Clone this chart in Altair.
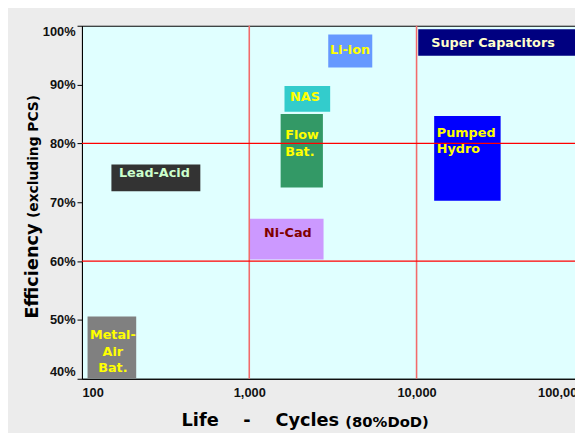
import altair as alt
import pandas as pd

# ---- data ----
techs = ["Li-ion", "Super Capacitors", "NAS", "Flow Bat.", "Pumped Hydro",
         "Ni-Cad", "Lead-Acid", "Metal-Air Bat."]
life_lo = [2965, 10230, 1624, 1540, 12740, 1000, 150, 108]
life_hi = [5435, 200000, 3045, 2755, 31800, 2780, 510, 211]
eff_lo = [92.9, 94.9, 85.4, 72.5, 70.25, 60.25, 71.86, 40.0]
eff_hi = [98.5, 99.4, 89.75, 85.0, 84.65, 67.2, 76.43, 50.57]
box_colors = ["#6699ff", "#000080", "#33cccc", "#339966", "#0000ff",
              "#cc99ff", "#333333", "#808080"]

label_text = ["Li-ion", "Super Capacitors", "NAS", "Flow\nBat.", "Pumped\nHydro",
              "Ni-Cad", "Lead-Acid", "Metal-\nAir\nBat."]
label_life = [4003, 12240, 2154, 1639, 13210, 1702, 271, 153]
label_eff = [95.95, 97.13, 87.83, 81.37, 81.84, 64.7, 74.92, 47.44]
label_left = [False, True, False, True, True, False, False, False]
label_colors = ["#ffff00", "#ffffcc", "#ffff00", "#ffff00", "#ffff00",
                "#800000", "#ccffcc", "#ffff00"]

x_ticks = [100, 1000, 10000, 100000]
y_ticks = [40, 50, 60, 70, 80, 90, 100]
h_grid = [60, 80]
v_grid = [1000, 10000]

y_title_main = "Efficiency"
y_title_sub = "(excluding PCS)"
x_title_main = "Life\u00a0\u00a0\u00a0\u00a0-\u00a0\u00a0\u00a0\u00a0Cycles"
x_title_sub = "(80%DoD)"

# ---- tables ----
boxes = pd.DataFrame({"tech": techs, "lo": life_lo, "hi": life_hi,
                      "elo": eff_lo, "ehi": eff_hi})
labels = pd.DataFrame({"tech": techs, "text": label_text, "x": label_life,
                       "y": label_eff, "left": label_left, "tc": label_colors})
hg = pd.DataFrame({"e": h_grid})
vg = pd.DataFrame({"c": v_grid})

xscale = alt.Scale(type="log", domain=[100, 100000], nice=False)
yscale = alt.Scale(domain=[40, 100], nice=False, zero=False)

FONT = "Liberation Sans"
BFONT = "DejaVu Sans"

xaxis = alt.Axis(values=x_ticks, format=",d", title=None, ticks=False,
                 grid=False, labelFlush=True, labelPadding=8,
                 labelFont=FONT, labelFontSize=13, labelFontWeight="bold",
                 labelColor="#111111", domainColor="#000000")
yaxis = alt.Axis(values=y_ticks, labelExpr="datum.value + '%'", title=None,
                 grid=False, labelFlush=True, tickSize=5, tickColor="#000000",
                 labelPadding=2, labelFont=FONT, labelFontSize=13,
                 labelFontWeight="bold", labelColor="#111111",
                 domainColor="#000000")

rects = alt.Chart(boxes).mark_rect(clip=True).encode(
    x=alt.X("lo:Q", scale=xscale, axis=xaxis),
    x2="hi:Q",
    y=alt.Y("elo:Q", scale=yscale, axis=yaxis),
    y2="ehi:Q",
    color=alt.Color("tech:N", scale=alt.Scale(domain=techs, range=box_colors), legend=None),
)

vrules = alt.Chart(vg).mark_rule(color="#f26b6b", strokeWidth=1.6).encode(
    x=alt.X("c:Q", scale=xscale, axis=xaxis))
hrules = alt.Chart(hg).mark_rule(color="#ff0000", strokeWidth=1.2).encode(
    y=alt.Y("e:Q", scale=yscale, axis=yaxis))

def label_layer(left):
    return alt.Chart(labels).transform_filter(
        alt.datum.left == left
    ).mark_text(font=BFONT, fontSize=13, fontWeight="bold", lineBreak="\n",
                lineHeight=17, align="left" if left else "center",
                baseline="middle").encode(
        x=alt.X("x:Q", scale=xscale, axis=xaxis),
        y=alt.Y("y:Q", scale=yscale, axis=yaxis),
        text="text:N",
        color=alt.Color("tc:N", scale=None),
    )

def title_layer(txt, px, py, size, angle=0, align="left"):
    return alt.Chart(pd.DataFrame({"t": [txt]})).mark_text(
        font=BFONT, fontSize=size, fontWeight="bold", color="#000000",
        angle=angle, align=align, baseline="middle").encode(
        x=alt.value(px), y=alt.value(py), text="t:N")

chart = alt.layer(
    rects, vrules, hrules, label_layer(False), label_layer(True),
    title_layer(y_title_main, -50, 297, 18, angle=270),
    title_layer(y_title_sub, -49, 195, 14, angle=270),
    title_layer(x_title_main, 101, 401, 18),
    title_layer(x_title_sub, 267, 402, 15),
).properties(
    width=509, height=358,
    autosize=alt.AutoSizeParams(type="none"),
    padding={"left": 75, "top": 15, "right": -9, "bottom": 52},
    background="#ececec",
).configure_view(fill="#e0ffff", stroke="#000000", strokeWidth=1)

chart.save("out.html", embed_options={"renderer": "svg", "actions": False})
